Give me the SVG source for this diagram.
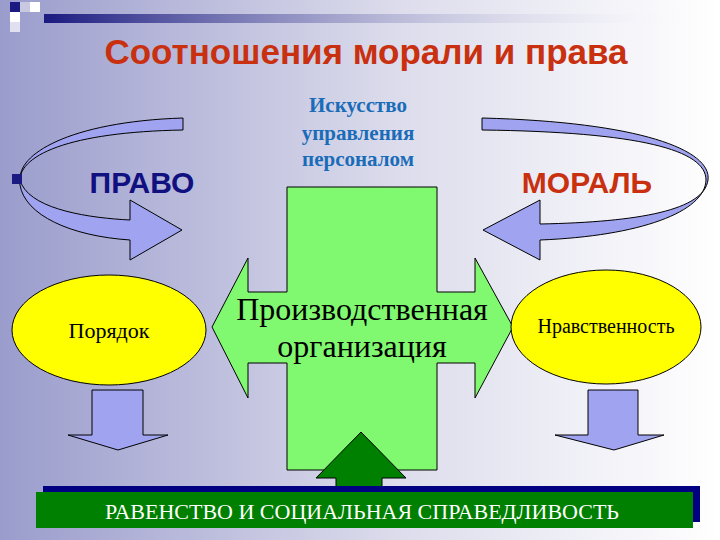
<svg xmlns="http://www.w3.org/2000/svg" width="720" height="540" viewBox="0 0 720 540">
<defs>
<linearGradient id="bg" x1="0" y1="0" x2="1" y2="0"><stop offset="0" stop-color="#9a9ccc"/><stop offset="0.55" stop-color="#dcdcec"/><stop offset="1" stop-color="#ffffff"/></linearGradient>
<linearGradient id="ln" x1="0" y1="0" x2="1" y2="0"><stop offset="0" stop-color="#1a1a80"/><stop offset="1" stop-color="#ffffff" stop-opacity="0"/></linearGradient>
<style>
.blue{fill:#9fa3f0;stroke:#000;stroke-width:1}
.ell{fill:#ffff00;stroke:#000;stroke-width:1}
.serif{font-family:"Liberation Serif",serif}
.sans{font-family:"Liberation Sans",Arial,sans-serif;font-weight:bold}
</style>
</defs>
<rect width="720" height="540" fill="url(#bg)"/>
<rect x="44" y="14" width="660" height="9" fill="url(#ln)"/>
<rect x="10" y="2" width="10" height="10" fill="#1a1a80"/>
<rect x="20" y="2" width="10" height="10" fill="#c8c8e0"/>
<rect x="30" y="2" width="10" height="10" fill="#fff"/>
<rect x="10" y="12" width="10" height="10" fill="#fff"/>
<rect x="10" y="22" width="10" height="10" fill="#e0e0f0"/>
<text x="366" y="64" text-anchor="middle" class="sans" font-size="35" fill="#c83010">Соотношения морали и права</text>
<g id="prod">
<path d="M287,187 H437 V292 H475 V258 L513,327 L475,398 V363 H437 V470 H287 V363 H248 V398 L212,327 L248,258 V292 H287 Z" fill="#80f870" stroke="#000"/>
<text x="362" y="320" text-anchor="middle" class="serif" font-size="32" fill="#000">Производственная</text>
<text x="362" y="357" text-anchor="middle" class="serif" font-size="32" fill="#000">организация</text>
</g>
<g id="connectors">
<path class="blue" d="M183,118 C60,122 10,160 22,185 C35,210 90,218 130,220 L130,200 L182,230 L130,260 L130,240 C70,236 25,215 20,185 C15,155 70,132 183,130 Z"/>
<path class="blue" d="M482,118 C640,122 712,150 708,180 C704,210 640,222 540,224 L540,200 L483,230 L540,260 L540,240 C640,236 705,212 706,180 C706,150 640,132 482,130 Z"/>
<path class="blue" d="M92,390 H143 V435 H168 L118,450 L68,435 H92 Z"/>
<path class="blue" d="M588,390 H638 V435 H664 L614,450 L555,435 H588 Z"/>
<path d="M336,492 V478 H316 L361,432 L406,478 H382 V492 Z" fill="#008000" stroke="#000"/>
</g>
<rect x="12" y="174" width="10" height="10" fill="#1a1a80"/>
<g id="iskusstvo"><text class="serif" font-weight="bold" font-size="21" fill="#1a6cb8" text-anchor="middle"><tspan x="358" y="112">Искусство</tspan><tspan x="358" y="140">управления</tspan><tspan x="358" y="166">персоналом</tspan></text></g>
<g id="pravo"><text x="142" y="193" text-anchor="middle" class="sans" font-size="30" fill="#101080">ПРАВО</text></g>
<g id="moral"><text x="587" y="193" text-anchor="middle" class="sans" font-size="30" fill="#c83010">МОРАЛЬ</text></g>
<g id="poryadok"><ellipse class="ell" cx="109" cy="330" rx="97" ry="55"/><text x="109" y="338" text-anchor="middle" class="serif" font-size="22">Порядок</text></g>
<g id="nravstv"><ellipse class="ell" cx="606" cy="327" rx="95" ry="57"/><text x="606" y="333" text-anchor="middle" class="serif" font-size="20">Нравственность</text></g>
<g id="ravenstvo">
<rect x="43" y="486" width="657" height="36" fill="#000080"/>
<rect x="36" y="492" width="657" height="36" fill="#008000"/>
<text x="362" y="519" text-anchor="middle" class="serif" font-size="22" fill="#fff">РАВЕНСТВО И СОЦИАЛЬНАЯ СПРАВЕДЛИВОСТЬ</text>
</g>
</svg>
